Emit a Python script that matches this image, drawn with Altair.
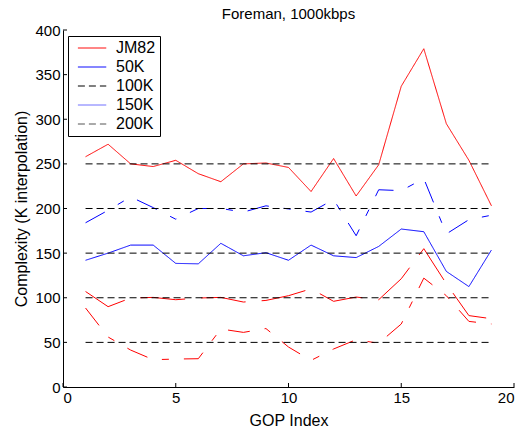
import altair as alt
import pandas as pd

# ---- data ----
gop = list(range(1, 20))
jm82 = [258, 272, 250, 247, 254, 239, 230, 250, 251, 246, 219, 256, 214, 249, 337, 379, 295, 254, 203]
k50 = [142, 150, 159, 159, 138.5, 138, 161, 147, 150.5, 142, 159, 147, 145, 157.5, 177, 174, 129.5, 112.5, 153.5]
blue_dashdot = [184, 198, 213, 201, 188, 200, 200, 196, 203, 199.5, 196, 210, 169.5, 221, 220, 233.5, 171.5, 187.5, 192.5]
red_dash = [107, 90, 99.7, 100.4, 97.8, 99.7, 100.4, 95.2, 97, 102.3, 110, 96, 100.8, 97.8, 121.3, 155, 115.7, 80, 76.5]
red_dashdot = [88.5, 56, 41.4, 30.6, 31.3, 31.7, 65, 61.2, 65.5, 44.8, 29.8, 42.6, 53, 49, 70.6, 122, 102.3, 73.5, 70.6]
ref_levels = [50, 100, 150, 200, 250]
legend_names = ["JM82", "50K", "100K", "150K", "200K"]
legend_colors = ["#ff0000", "#0000ff", "#000000", "#6a6aff", "#555555"]
x_ticks = [0, 5, 10, 15, 20]
y_ticks = [0, 50, 100, 150, 200, 250, 300, 350, 400]

FONT = "Liberation Sans"
DASH = [7, 4]
DASHDOT = [22, 15, 7, 15]
LONGDASH = [45, 16]

main_df = pd.DataFrame(
    [{"gop": g, "val": v, "series": "JM82"} for g, v in zip(gop, jm82)]
    + [{"gop": g, "val": v, "series": "50K"} for g, v in zip(gop, k50)]
)
ref_df = pd.DataFrame(
    [{"gop": g, "val": lv, "series": "100K", "level": lv} for lv in ref_levels for g in (gop[0], gop[-1])]
)

def single(vals):
    return pd.DataFrame({"gop": gop, "val": vals})

xscale = alt.Scale(domain=[0, 20], nice=False, zero=False)
yscale = alt.Scale(domain=[0, 400], nice=False)

leg = alt.Legend(
    title=None, orient="none", legendX=5, legendY=6,
    symbolType="M-0.6,0H7.5", symbolSize=49, symbolStrokeWidth=1,
    labelFontSize=16, labelFont=FONT, labelColor="black",
    strokeColor="black", fillColor="white", padding=4, rowPadding=3, labelOffset=28,
)
color_enc = alt.Color("series:N", scale=alt.Scale(domain=legend_names, range=legend_colors), legend=leg)
dash_enc = alt.StrokeDash(
    "series:N",
    scale=alt.Scale(domain=legend_names, range=[[1, 0], [1, 0], DASH, [1, 0], DASH]),
    legend=leg,
)

X = alt.X("gop:Q", scale=xscale,
          axis=alt.Axis(values=x_ticks, title="GOP Index", grid=False, ticks=False,
                        labelPadding=3, titlePadding=7))
Y = alt.Y("val:Q", scale=yscale,
          axis=alt.Axis(values=y_ticks, title="Complexity (K interpolation)", grid=False, ticks=False,
                        labelPadding=3, titlePadding=5))

ref_layer = alt.Chart(ref_df).mark_line(strokeWidth=1).encode(
    x=X, y=Y, color=color_enc, strokeDash=dash_enc, detail="level:N"
)
main_layer = alt.Chart(main_df).mark_line(strokeWidth=1).encode(
    x=X, y=Y, color=color_enc, strokeDash=dash_enc
)
red_dash_layer = alt.Chart(single(red_dash)).mark_line(
    strokeWidth=1, color="#ff0000", strokeDash=LONGDASH).encode(x=X, y=Y)
red_dd_layer = alt.Chart(single(red_dashdot)).mark_line(
    strokeWidth=1, color="#ff0000", strokeDash=DASHDOT).encode(x=X, y=Y)
blue_dd_layer = alt.Chart(single(blue_dashdot)).mark_line(
    strokeWidth=1, color="#0000ff", strokeDash=DASHDOT).encode(x=X, y=Y)

ytick_layer = alt.Chart(pd.DataFrame({"v": y_ticks})).mark_rule(color="black", strokeWidth=1).encode(
    y=alt.Y("v:Q", scale=yscale), x=alt.value(0), x2=alt.value(4)
)
xtick_layer = alt.Chart(pd.DataFrame({"v": x_ticks})).mark_rule(color="black", strokeWidth=1).encode(
    x=alt.X("v:Q", scale=xscale), y=alt.value(357), y2=alt.value(353)
)

chart = alt.layer(
    red_dash_layer, red_dd_layer, blue_dd_layer, main_layer, ref_layer, ytick_layer, xtick_layer
).properties(
    width=451, height=357,
    title=alt.Title("Foreman, 1000kbps", fontSize=15, font=FONT, fontWeight="normal",
                    color="black", offset=1),
    padding={"left": 63, "top": 30, "right": 9, "bottom": 43},
    autosize="none",
    background="white",
).configure_view(stroke=None).configure_axis(
    domainColor="black", domainWidth=1, labelFont=FONT, labelFontSize=15, labelColor="black",
    titleFont=FONT, titleFontSize=16, titleFontWeight="normal", titleColor="black",
).configure_axisY(labelAngle=0)

chart.save("out.html", embed_options={"renderer": "svg", "actions": False})
